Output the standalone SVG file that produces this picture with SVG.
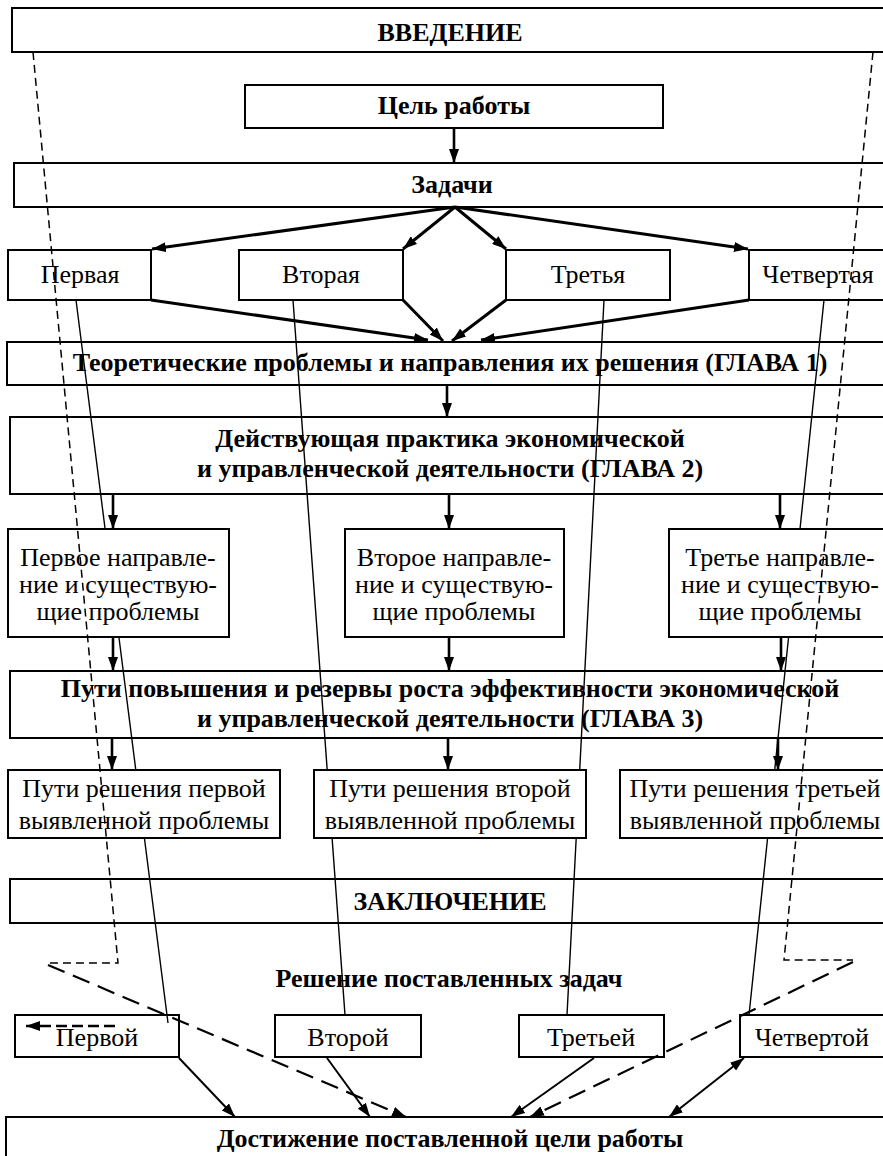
<svg xmlns="http://www.w3.org/2000/svg" width="883" height="1156" viewBox="0 0 883 1156">
<style>
.box{fill:#fff;stroke:#000;stroke-width:2}
.t{font-family:"Liberation Serif","Times New Roman",serif;font-size:26px;fill:#000;text-anchor:middle}
.b{font-weight:bold}
.thin{fill:none;stroke:#000;stroke-width:1.4}
.arr{fill:none;stroke:#000;stroke-width:2.6;marker-end:url(#ah)}
.fan{fill:none;stroke:#000;stroke-width:3;marker-end:url(#ah)}
.barr{fill:none;stroke:#000;stroke-width:2;marker-end:url(#ah)}
.sd{fill:none;stroke:#000;stroke-width:1.5;stroke-dasharray:8 5}
.ld{fill:none;stroke:#000;stroke-width:2.2;stroke-dasharray:18 9;marker-end:url(#ah)}
</style>
<defs>
<marker id="ah" markerUnits="userSpaceOnUse" markerWidth="14" markerHeight="10" refX="14" refY="5" orient="auto-start-reverse" viewBox="0 0 14 10">
<path d="M0,0 L14,5 L0,10 z" fill="#000"/>
</marker>
</defs>
<rect width="883" height="1156" fill="#fff"/>
<g id="intro"><rect class="box" x="12" y="8" width="880" height="44"/><text class="t b" x="450" y="41">ВВЕДЕНИЕ</text></g>
<g id="goal"><rect class="box" x="245" y="85" width="418" height="43"/><text class="t b" x="454" y="114">Цель работы</text></g>
<g id="tasks"><rect class="box" x="14" y="163" width="878" height="44"/><text class="t b" x="452" y="193">Задачи</text></g>
<g id="task1"><rect class="box" x="8" y="250" width="143" height="50"/><text class="t" x="80" y="283">Первая</text></g>
<g id="task2"><rect class="box" x="239" y="250" width="164" height="50"/><text class="t" x="321" y="283">Вторая</text></g>
<g id="task3"><rect class="box" x="506" y="250" width="164" height="50"/><text class="t" x="588" y="283">Третья</text></g>
<g id="task4"><rect class="box" x="749" y="250" width="140" height="50"/><text class="t" x="818" y="283">Четвертая</text></g>
<g id="ch1"><rect class="box" x="7" y="342" width="885" height="43"/><text class="t b" x="450" y="371">Теоретические проблемы и направления их решения (ГЛАВА 1)</text></g>
<g id="ch2"><rect class="box" x="10" y="417" width="882" height="77"/><text class="t b" x="450" y="447">Действующая практика экономической</text><text class="t b" x="450" y="477">и управленческой деятельности (ГЛАВА 2)</text></g>
<g id="dir1"><rect class="box" x="8" y="529" width="221" height="108"/><text class="t" x="118" y="566">Первое направле-</text><text class="t" x="118" y="593">ние и существую-</text><text class="t" x="118" y="620">щие проблемы</text></g>
<g id="dir2"><rect class="box" x="345" y="529" width="219" height="108"/><text class="t" x="454" y="566">Второе направле-</text><text class="t" x="454" y="593">ние и существую-</text><text class="t" x="454" y="620">щие проблемы</text></g>
<g id="dir3"><rect class="box" x="669" y="529" width="222" height="108"/><text class="t" x="780" y="566">Третье направле-</text><text class="t" x="780" y="593">ние и существую-</text><text class="t" x="780" y="620">щие проблемы</text></g>
<g id="ch3"><rect class="box" x="10" y="671" width="882" height="67"/><text class="t b" x="450" y="697">Пути повышения и резервы роста эффективности экономической</text><text class="t b" x="450" y="727">и управленческой деятельности (ГЛАВА 3)</text></g>
<g id="way1"><rect class="box" x="8" y="770" width="272" height="68"/><text class="t" x="144" y="797">Пути решения первой</text><text class="t" x="144" y="829">выявленной проблемы</text></g>
<g id="way2"><rect class="box" x="314" y="770" width="272" height="68"/><text class="t" x="450" y="797">Пути решения второй</text><text class="t" x="450" y="829">выявленной проблемы</text></g>
<g id="way3"><rect class="box" x="620" y="770" width="270" height="68"/><text class="t" x="755" y="797">Пути решения третьей</text><text class="t" x="755" y="829">выявленной проблемы</text></g>
<g id="concl"><rect class="box" x="10" y="879" width="882" height="44"/><text class="t b" x="450" y="910">ЗАКЛЮЧЕНИЕ</text></g>
<g id="solve"><text class="t b" x="449" y="987">Решение поставленных задач</text></g>
<g id="res1"><rect class="box" x="15" y="1015" width="164" height="42"/><text class="t" x="97" y="1046">Первой</text></g>
<g id="res2"><rect class="box" x="275" y="1015" width="146" height="42"/><text class="t" x="348" y="1046">Второй</text></g>
<g id="res3"><rect class="box" x="519" y="1015" width="145" height="42"/><text class="t" x="591" y="1046">Третьей</text></g>
<g id="res4"><rect class="box" x="740" y="1015" width="145" height="42"/><text class="t" x="812" y="1046">Четвертой</text></g>
<g id="achieve"><rect class="box" x="6" y="1117" width="886" height="60"/><text class="t b" x="450" y="1147">Достижение поставленной цели работы</text></g>
<g id="connectors">
<path class="arr" d="M454,128 L454,163"/>
<path class="fan" d="M455,207 L152,249"/>
<path class="fan" d="M455,207 L403,249"/>
<path class="fan" d="M455,207 L506,249"/>
<path class="fan" d="M455,207 L748,249"/>
<path class="fan" d="M151,300 L428,340"/>
<path class="fan" d="M403,300 L443,341"/>
<path class="fan" d="M506,300 L452,341"/>
<path class="fan" d="M749,300 L481,340"/>
<path class="arr" d="M447,385 L447,417"/>
<path class="arr" d="M113,494 L113,529"/>
<path class="arr" d="M449,494 L449,529"/>
<path class="arr" d="M780,494 L780,529"/>
<path class="arr" d="M113,637 L113,671"/>
<path class="arr" d="M449,637 L449,671"/>
<path class="arr" d="M781,637 L781,671"/>
<path class="arr" d="M112,738 L112,770"/>
<path class="arr" d="M448,738 L448,770"/>
<path class="arr" d="M778,738 L778,770"/>
<path class="thin" d="M76,300 L105.1,529 M118.9,637 L135.8,770 M144.4,838 L168,1023"/>
<path class="thin" d="M293,300 L327.2,770 M332.1,838 L345,1015"/>
<path class="thin" d="M604,300 L579.7,770 M576.2,838 L567,1015"/>
<path class="thin" d="M824,300 L800,529 M788.6,637 L774.7,770 M767.6,838 L749,1015"/>
<path class="barr" d="M179,1058 L235,1117"/>
<path class="barr" d="M327,1058 L370,1117"/>
<path class="barr" d="M594,1058 L511,1117"/>
<path class="barr" d="M669,1117 L744,1058" style="marker-start:url(#ah)"/>
<path class="sd" d="M33,52 L118,963 L48,963"/>
<path class="sd" d="M873,52 L784,960 L853,960"/>
<path class="ld" d="M48,965 L406,1117"/>
<path class="ld" d="M853,962 L530,1117"/>
<path fill="none" stroke="#000" stroke-width="2.4" stroke-dasharray="11 5" d="M115,1026 L26,1026" marker-end="url(#ah)"/>
</g>
</svg>
